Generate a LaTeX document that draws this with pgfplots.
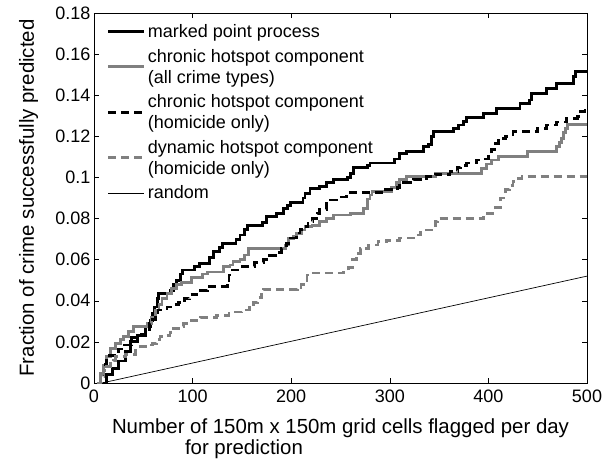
\documentclass[border=0pt]{standalone}
\usepackage{fontspec}
\setmainfont{Liberation Sans}
\usepackage{pgfplots}
\pgfplotsset{compat=1.18}
\definecolor{midgray}{gray}{0.5}

\begin{document}
\begin{tikzpicture}
\begin{axis}[
  scale only axis, width=493pt, height=370pt,
  xmin=0, xmax=500, ymin=0, ymax=0.18,
  xtick={0,100,200,300,400,500},
  ytick={0,0.02,0.04,0.06,0.08,0.1,0.12,0.14,0.16,0.18},
  scaled y ticks=false,
  yticklabel style={/pgf/number format/fixed, /pgf/number format/precision=2},
  /pgf/number format/assume math mode=true,
  tick align=inside, major tick length=5pt,
  tick style={black, line width=0.5pt},
  axis line style={black, line width=0.6pt},
  ticklabel style={font=\fontsize{18}{20}\selectfont},
  xticklabel style={yshift=-3pt},
  label style={font=\fontsize{20.4}{21}\selectfont},
  xlabel={Number of 150m x 150m grid cells flagged per day\\\hspace*{73pt}for prediction},
  xlabel style={at={(axis description cs:0.5,-0.0973)}, anchor=north, inner sep=0pt, align=left},
  ylabel={Fraction of crime successfully predicted},
  ylabel style={at={(axis description cs:-0.1217,0.5)}, anchor=base},
  legend image code/.code={\draw[#1] (0pt,0pt) -- (36pt,0pt);},
  legend cell align=left,
  legend style={draw=none, fill=none, at={(axis description cs:0.026,0.975)},
    anchor=north west, inner sep=0pt, row sep=6pt,
    font=\fontsize{18}{21}\selectfont,
    cells={align=left},
    /tikz/every even column/.append style={column sep=2pt}},
]
% marked point process
\addplot[const plot, black, line width=2.8pt] coordinates {
(9,0) (13,0.004) (19,0.007) (25,0.0107) (32,0.0152) (37,0.020) (44,0.023)
(52,0.0274) (57,0.0306) (59.5,0.034) (61,0.037) (64,0.041) (65.6,0.0435)
(77,0.045) (81,0.048) (84,0.050) (88,0.053) (90,0.055) (102,0.0565)
(107,0.058) (117,0.061) (121,0.064) (127,0.066) (130,0.068) (144,0.070)
(148,0.072) (153,0.0745) (156,0.0765) (171,0.078) (175,0.081) (185,0.0825)
(192,0.085) (196,0.0865) (199,0.088) (212,0.090) (214,0.092) (219,0.0945)
(229,0.0955) (236,0.0975) (243,0.099) (257,0.100) (260,0.102) (263,0.105)
(277,0.106) (280,0.107) (305,0.109) (310,0.1115) (317,0.1125) (334,0.115)
(339,0.116) (342.5,0.120) (344,0.1222) (364.4,0.1239) (369.5,0.1255)
(374.6,0.1271) (378,0.129) (395,0.1313) (408.4,0.1336) (432,0.1361)
(442,0.1377) (444,0.141) (459,0.1434) (469,0.1458) (486,0.149) (488,0.1514)
(500,0.1514)};
\addlegendentry{marked point process}
% chronic hotspot component, all crime types
\addplot[const plot, midgray, line width=2.8pt] coordinates {
(5,0) (6.4,0.0047) (10,0.0088) (13,0.0128) (16.5,0.0169) (21.6,0.0193)
(26.7,0.021) (30,0.0225) (35,0.025) (40,0.0274) (54,0.029) (58,0.032)
(62,0.0355) (66,0.038) (69,0.041) (74,0.0436) (79,0.046) (84,0.048)
(89,0.049) (99,0.0515) (110,0.053) (115,0.054) (131,0.0565) (138,0.0574)
(141,0.059) (148,0.060) (153,0.0623) (156.5,0.0655) (190,0.0655)
(194,0.0671) (197,0.0704) (202,0.0712) (205.6,0.0728) (210.7,0.0744)
(214,0.076) (221,0.0768) (229,0.0785) (236,0.080) (243,0.0817) (260,0.0825)
(273,0.085) (277,0.0895) (280,0.0915) (282,0.093) (302,0.095) (307,0.0975)
(310,0.099) (317,0.1005) (346,0.102) (393,0.1045) (398,0.1065)
(403,0.1085) (410,0.110) (440,0.1125) (469,0.115) (472,0.117) (474,0.119)
(476,0.122) (478,0.124) (480,0.1258) (500,0.1258)};
\addlegendentry{chronic hotspot component\\(all crime types)}
% chronic hotspot component, homicide only
\addplot[const plot, black, line width=2.8pt, dash pattern=on 8pt off 5pt] coordinates {
(3,0) (6,0.004) (10,0.009) (13,0.0135) (25,0.0165) (31,0.0185) (38,0.022)
(48,0.0235) (52,0.026) (56,0.029) (59,0.031) (62,0.033) (65,0.0355)
(70,0.036) (74,0.037) (80,0.038) (86,0.039) (92,0.041) (97,0.043)
(104,0.045) (115,0.047) (135,0.050) (137,0.0525) (140,0.055) (150,0.0566)
(163,0.0585) (172,0.060) (178,0.062) (184,0.0635) (190,0.0655) (195,0.068)
(199,0.0705) (205,0.073) (209,0.0745) (212,0.076) (217,0.0785) (222,0.080)
(227,0.0825) (229,0.0845) (236,0.0875) (240,0.089) (246,0.0905)
(256,0.0925) (296,0.094) (308,0.095) (310,0.097) (314,0.0975) (324,0.099)
(331,0.0996) (337,0.1004) (346,0.1015) (361,0.1028) (369,0.105) (372,0.106)
(378,0.107) (388,0.1085) (395,0.109) (400,0.111) (403,0.1135) (406,0.1165)
(410,0.119) (417,0.120) (425,0.1222) (450,0.124) (459,0.1255) (469,0.127)
(479,0.1288) (490,0.1296) (493,0.132) (498,0.1336) (500,0.1336)};
\addlegendentry{chronic hotspot component\\(homicide only)}
% dynamic hotspot component, homicide only
\addplot[const plot, midgray, line width=2.8pt, dash pattern=on 8pt off 5pt] coordinates {
(3,0) (6,0.003) (10,0.006) (13,0.008) (17,0.0095) (20,0.011) (22,0.0128)
(32,0.014) (42,0.016) (47,0.0177) (55,0.0185) (59,0.0193) (63,0.021)
(67,0.0225) (72,0.023) (77,0.0245) (81,0.0266) (86,0.0275) (91,0.029)
(99,0.0306) (108,0.032) (124,0.033) (137,0.0345) (150,0.0355) (158,0.037)
(162,0.039) (166,0.0415) (170,0.0445) (172,0.0455) (206,0.0465)
(210,0.0478) (213,0.050) (216,0.0525) (219,0.0535) (253,0.054) (258,0.056)
(262,0.060) (266,0.063) (270,0.0655) (278,0.0671) (288,0.0687)
(297,0.0695) (310,0.0705) (324,0.072) (331,0.0735) (337,0.0744)
(346,0.0785) (348,0.080) (395,0.0825) (407,0.0855) (412,0.090)
(417,0.094) (421,0.096) (425,0.098) (430,0.0995) (434,0.1004)
(499,0.1015) (500,0.1015)};
\addlegendentry{dynamic hotspot component\\(homicide only)}
% random flagging baseline
\addplot[black, line width=0.7pt] coordinates {(8,0) (500,0.052)};
\addlegendentry{random}
\end{axis}
\pgfresetboundingbox
\path ([shift={(-94pt,-78pt)}]current axis.south west)
  rectangle ([shift={(28pt,13pt)}]current axis.north east);
\end{tikzpicture}
\end{document}
